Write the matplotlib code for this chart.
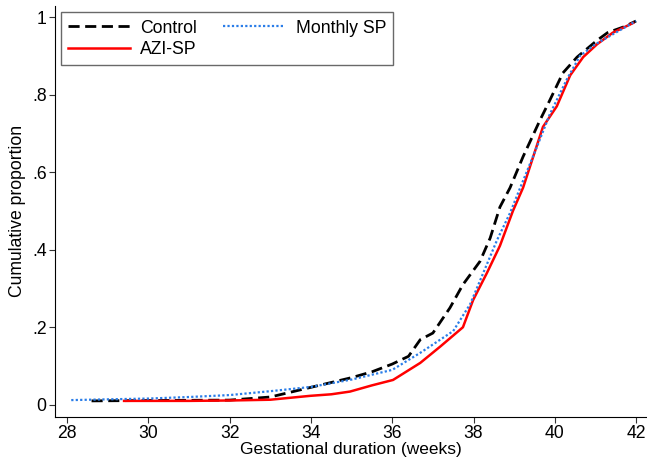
import matplotlib
matplotlib.use("Agg")
import matplotlib.pyplot as plt

plt.rcParams['font.family'] = ['Liberation Sans', 'DejaVu Sans']

# cumulative proportion by gestational week
control_x = [28.6, 30, 32, 33, 34, 35, 35.5, 36, 36.4, 36.69, 37.0, 37.42, 37.74, 38.16, 38.41, 38.65, 38.9, 39.22, 39.64, 39.88, 40.2, 40.55, 41.04, 41.3, 41.7, 42.0]
control_y = [0.01, 0.011, 0.012, 0.02, 0.045, 0.07, 0.085, 0.105, 0.125, 0.168, 0.185, 0.25, 0.31, 0.37, 0.43, 0.51, 0.56, 0.64, 0.735, 0.786, 0.856, 0.897, 0.94, 0.96, 0.975, 0.99]

azi_x = [29.4, 30, 31, 32, 33, 33.98, 34.5, 34.96, 35.5, 36.02, 36.69, 37.18, 37.74, 37.99, 38.33, 38.65, 38.97, 39.22, 39.71, 40.05, 40.38, 40.7, 41.04, 41.43, 41.93]
azi_y = [0.01, 0.01, 0.01, 0.011, 0.013, 0.023, 0.027, 0.034, 0.05, 0.064, 0.108, 0.15, 0.20, 0.27, 0.34, 0.41, 0.50, 0.56, 0.717, 0.77, 0.85, 0.897, 0.93, 0.96, 0.985]

monthly_x = [28.1, 29, 30, 31, 32, 33, 34, 35, 36, 36.69, 37.5, 37.92, 38.24, 38.58, 38.9, 39.15, 39.56, 39.88, 40.3, 40.62, 41.0, 41.5, 42.0]
monthly_y = [0.012, 0.014, 0.016, 0.02, 0.025, 0.035, 0.046, 0.065, 0.09, 0.134, 0.19, 0.26, 0.34, 0.425, 0.495, 0.56, 0.665, 0.75, 0.84, 0.90, 0.93, 0.96, 0.99]

x_ticks = [28, 30, 32, 34, 36, 38, 40, 42]
y_ticks = [0, 0.2, 0.4, 0.6, 0.8, 1]
y_labels = ['0', '.2', '.4', '.6', '.8', '1']

fig = plt.figure(figsize=(6.47, 4.59), dpi=100)
ax = fig.add_axes([0.085, 0.092, 0.915, 0.896])

ax.plot(control_x, control_y, color='black', linestyle=(0, (4, 2)), linewidth=2, label='Control')
ax.plot(azi_x, azi_y, color='#ff0000', linewidth=1.8, label='AZI-SP')
ax.plot(monthly_x, monthly_y, color='#2a7de8', linestyle=(0, (1, 1)), linewidth=1.6, label='Monthly SP')

ax.set_xlim(27.7, 42.27)
ax.set_ylim(-0.031, 1.03)
ax.set_xticks(x_ticks)
ax.set_yticks(y_ticks)
ax.set_yticklabels(y_labels)
ax.tick_params(labelsize=12.7, length=4.5, color='#333333', pad=1.5)
ax.spines['top'].set_visible(False)
ax.spines['right'].set_visible(False)

ax.set_xlabel('Gestational duration (weeks)', fontsize=12.5, labelpad=0)
ax.set_ylabel('Cumulative proportion', fontsize=12.7, labelpad=4)

leg = ax.legend(ncol=2, loc='upper left', bbox_to_anchor=(0.01, 0.983), fontsize=12.7,
                frameon=True, fancybox=False, edgecolor='#444444', handlelength=3.5,
                handletextpad=0.6, columnspacing=1.5, borderpad=0.4, labelspacing=0.25,
                borderaxespad=0)
leg.get_frame().set_linewidth(1)

fig.savefig('out.png', dpi=100)
